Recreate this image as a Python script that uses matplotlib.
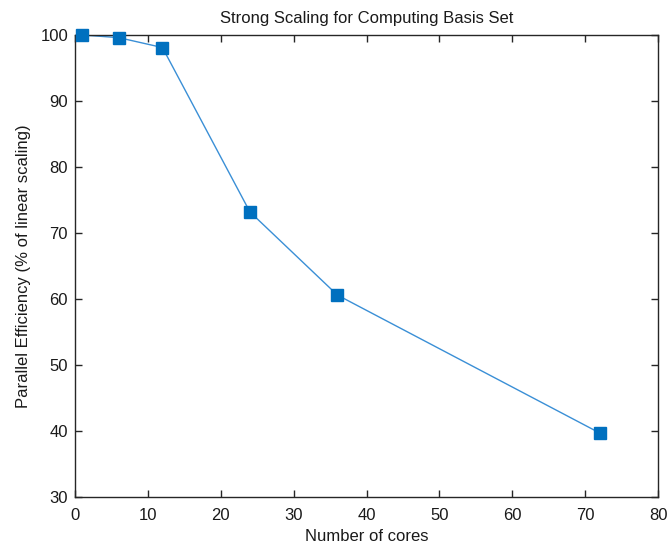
import matplotlib
matplotlib.use("Agg")
import matplotlib.pyplot as plt

cores = [1, 6, 12, 24, 36, 72]
efficiency = [100, 99.6, 98.1, 73.2, 60.6, 39.7]
x_ticks = [0, 10, 20, 30, 40, 50, 60, 70, 80]
y_ticks = [30, 40, 50, 60, 70, 80, 90, 100]

plt.rcParams['font.family'] = ['Liberation Sans Narrow', 'Liberation Sans', 'DejaVu Sans']
plt.rcParams['font.size'] = 12

fig = plt.figure(figsize=(6.7, 5.48), dpi=100)
ax = fig.add_axes([75/670, 1-497/548, (658-75)/670, (497-35)/548])

ax.plot(cores, efficiency, '-', color='#3a8fd6', linewidth=1.0, zorder=2)
ax.plot(cores, efficiency, 's', markersize=8.5, markerfacecolor='#0070bf',
        markeredgecolor='#0070bf', linestyle='none', zorder=3, clip_on=False)

ax.set_xlim(0, 80)
ax.set_ylim(30, 100)
ax.set_xticks(x_ticks)
ax.set_yticks(y_ticks)
ax.tick_params(direction='in', top=True, right=True, length=5, width=1,
               colors='#262626', labelcolor='#1a1a1a', labelsize=12)
ax.tick_params(axis='x', pad=8)
ax.tick_params(axis='y', pad=5)
for s in ax.spines.values():
    s.set_color('#262626')
    s.set_linewidth(1.0)

ax.set_xlabel('Number of cores', fontsize=12, labelpad=4, color='#1a1a1a')
ax.set_ylabel('Parallel Efficiency (% of linear scaling)', fontsize=12, labelpad=7, color='#1a1a1a')
ax.set_title('Strong Scaling for Computing Basis Set', fontsize=12, pad=9, color='#1a1a1a')

fig.savefig('out.png', dpi=100)
